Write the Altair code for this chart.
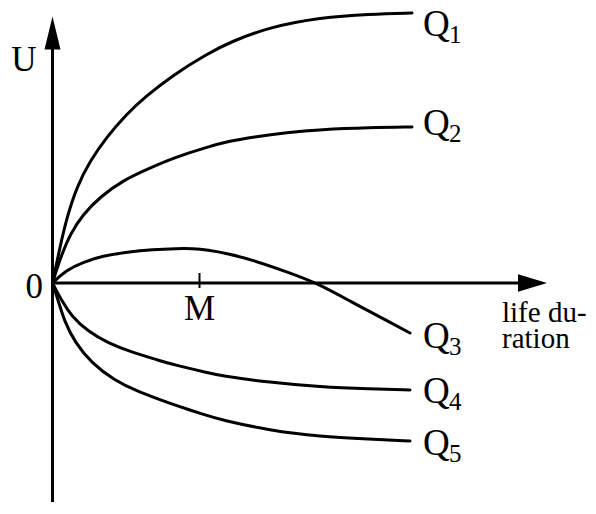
import altair as alt
import pandas as pd

# ---- data (x: life duration, y: U) ----
series = ["Q1", "Q2", "Q3", "Q4", "Q5"]
q1_x = [0, 0.75, 1.42, 2.42, 3.75, 5.42, 7.42, 9.25, 12.05, 15.45, 17.75, 21.75, 26.75, 31.75, 35.95]
q1_y = [0, 3.6, 6.5, 9.6, 12.2, 14.6, 16.9, 18.6, 20.8, 22.9, 24.1, 25.6, 26.55, 26.9, 27.0]
q2_x = [0, 0.75, 1.75, 3.08, 4.75, 7.08, 9.75, 12.05, 15.45, 17.75, 20.05, 23.45, 26.75, 31.75, 35.95]
q2_y = [0, 2.4, 4.9, 6.9, 8.6, 10.3, 11.5, 12.5, 13.6, 14.2, 14.6, 15.05, 15.35, 15.55, 15.6]
q3_x = [0, 1.4, 3.1, 5.0, 7.5, 10.0, 12.5, 14.0, 15.5, 17.5, 20.0, 23.5, 26.45, 30.0, 33.5, 35.75]
q3_y = [0, 1.3, 2.1, 2.7, 3.1, 3.35, 3.45, 3.45, 3.3, 2.95, 2.3, 1.1, 0.0, -1.95, -3.8, -5.0]
q4_x = [0, 0.88, 1.88, 3.55, 5.55, 7.88, 10.55, 12.05, 15.45, 16.75, 21.75, 26.75, 31.75, 35.75]
q4_y = [0, -1.7, -3.3, -4.85, -6.0, -6.9, -7.7, -8.15, -8.95, -9.25, -9.95, -10.4, -10.6, -10.7]
q5_x = [0, 0.55, 1.22, 2.22, 3.88, 6.22, 8.55, 10.55, 12.05, 15.45, 16.75, 21.75, 26.75, 31.75, 35.75]
q5_y = [0, -1.7, -3.9, -5.9, -8.0, -9.75, -10.85, -11.6, -12.15, -13.25, -13.65, -14.75, -15.35, -15.6, -15.8]

# curve labels: letter, subscript, position of the letter (left / baseline)
label_main = ["Q", "Q", "Q", "Q", "Q"]
label_sub = ["1", "2", "3", "4", "5"]
label_x = [37.05, 37.05, 37.05, 37.05, 37.05]
label_y = [24.7, 14.8, -6.5, -12.0, -17.2]

# axes extents and marker M
x_axis_end = 46.7
y_axis_bottom = -21.9
y_axis_top = 23.5
x_arrow_center = 48.0
y_arrow_center = 25.0
m_value = 14.7

# ---- tables ----
xs_all = [q1_x, q2_x, q3_x, q4_x, q5_x]
ys_all = [q1_y, q2_y, q3_y, q4_y, q5_y]
rows = []
for s, xs_, ys_ in zip(series, xs_all, ys_all):
    for i, (a, b) in enumerate(zip(xs_, ys_)):
        rows.append({"series": s, "i": i, "x": a, "y": b})
curves_df = pd.DataFrame(rows)

labels_df = pd.DataFrame({"main": label_main, "sub": label_sub, "x": label_x, "y": label_y})

xscale = alt.Scale(domain=[-4.45, 53.55], nice=False, zero=False)
yscale = alt.Scale(domain=[-21.9, 27.5], nice=False, zero=False)
X = lambda f: alt.X(f, type="quantitative", scale=xscale, axis=None)
Y = lambda f: alt.Y(f, type="quantitative", scale=yscale, axis=None)

FONT = "Liberation Serif"

curves = alt.Chart(curves_df).mark_line(
    color="black", strokeWidth=3, interpolate="basis", strokeCap="round"
).encode(x=X("x"), y=Y("y"), detail="series:N", order="i:Q")

axes_df = pd.DataFrame({
    "x": [0, 0], "x2": [x_axis_end, 0],
    "y": [0, y_axis_bottom], "y2": [0, y_axis_top],
})
axes = alt.Chart(axes_df).mark_rule(color="black", strokeWidth=3).encode(
    x=X("x"), x2="x2", y=Y("y"), y2="y2"
)

tick_df = pd.DataFrame({"x": [m_value], "y": [1.0], "y2": [-0.5]})
tick = alt.Chart(tick_df).mark_rule(color="black", strokeWidth=2).encode(
    x=X("x"), y=Y("y"), y2="y2"
)

yarrow = alt.Chart(pd.DataFrame({"x": [0], "y": [y_arrow_center]})).mark_point(
    shape="M0,-1L0.485,1L-0.485,1Z", size=1089, filled=True, color="black", opacity=1, strokeWidth=0
).encode(x=X("x"), y=Y("y"))

xarrow = alt.Chart(pd.DataFrame({"x": [x_arrow_center], "y": [0]})).mark_point(
    shape="M1,0L-1,-0.6L-1,0.6Z", size=841, filled=True, color="black", opacity=1, strokeWidth=0
).encode(x=X("x"), y=Y("y"))

qmain = alt.Chart(labels_df).mark_text(
    font=FONT, fontSize=37, align="left", baseline="alphabetic", color="black"
).encode(x=X("x"), y=Y("y"), text="main:N")
qsub = alt.Chart(labels_df).mark_text(
    font=FONT, fontSize=25, align="left", baseline="alphabetic", color="black", dx=26, dy=7
).encode(x=X("x"), y=Y("y"), text="sub:N")

texts_df = pd.DataFrame({
    "t": ["U", "0", "M", "life du-", "ration"],
    "x": [-2.85, -0.95, m_value, 44.95, 44.95],
    "y": [21.2, -1.5, -3.7, -3.9, -6.5],
    "a": ["center", "right", "center", "left", "left"],
    "s": [35, 35, 35, 29, 29],
})
other_texts = []
for _, r in texts_df.iterrows():
    other_texts.append(
        alt.Chart(texts_df[texts_df.t == r.t]).mark_text(
            font=FONT, fontSize=int(r.s), align=r.a, baseline="alphabetic", color="black"
        ).encode(x=X("x"), y=Y("y"), text="t:N")
    )

chart = alt.layer(axes, tick, yarrow, xarrow, curves, qmain, qsub, *other_texts).properties(
    width=580, height=494, autosize=alt.AutoSizeParams(type="none"), padding=0
).configure_view(stroke=None)

chart.save("out.html", embed_options={"renderer": "svg", "actions": False})
